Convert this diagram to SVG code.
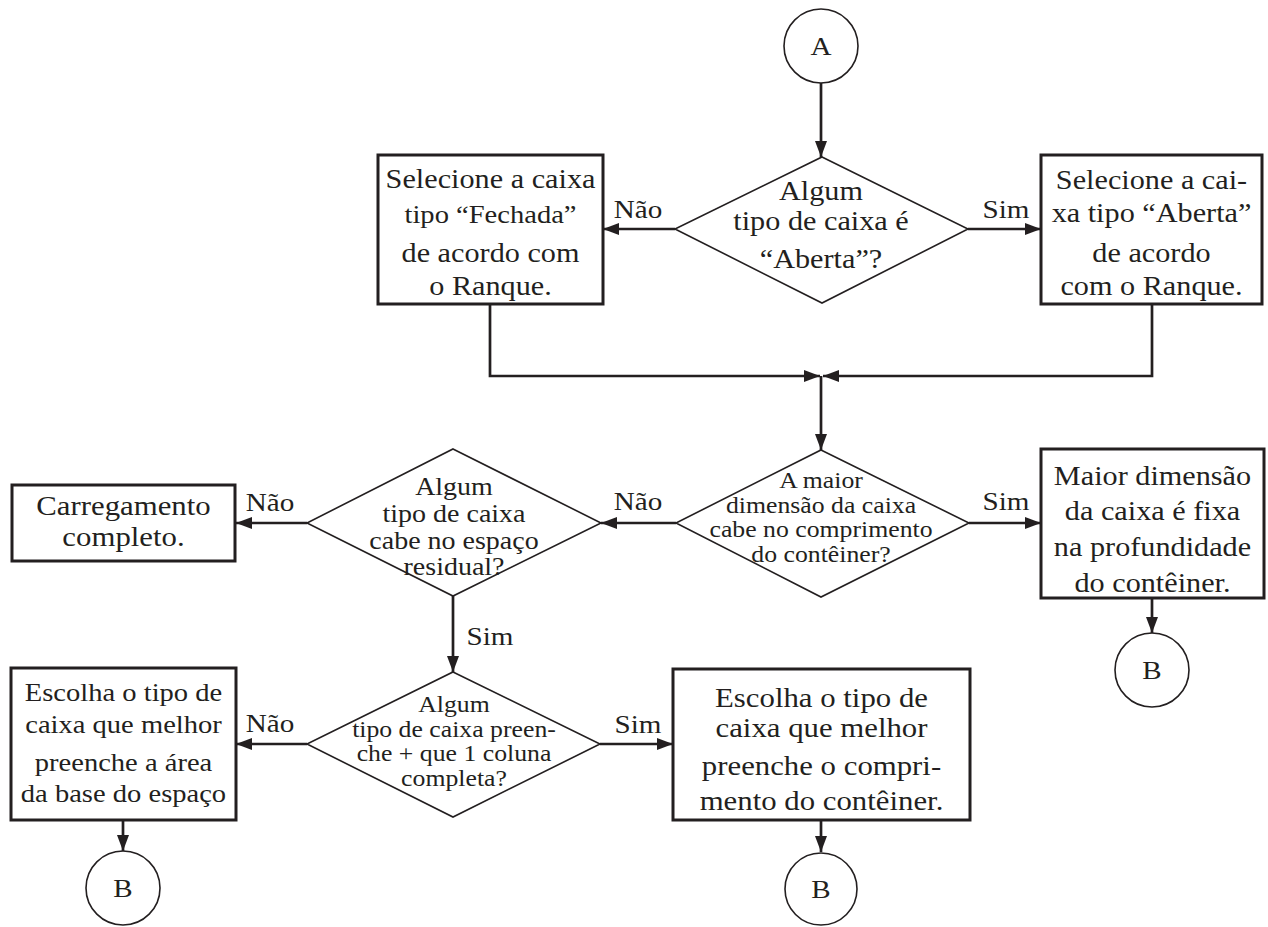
<svg xmlns="http://www.w3.org/2000/svg" width="1268" height="927" viewBox="0 0 1268 927">
<style>
  text { font-family: "Liberation Serif", "Times New Roman", serif; fill: #231f20; text-anchor: middle; }
  .box { fill: #ffffff; stroke: #231f20; stroke-width: 3; }
  .dia { fill: #ffffff; stroke: #231f20; stroke-width: 1.6; }
  .term { fill: #ffffff; stroke: #231f20; stroke-width: 1.6; }
  .conn { fill: none; stroke: #231f20; stroke-width: 2.7; }
  .arrow { marker-end: url(#arr); }
  .t27 { font-size: 27px; }
  .t275 { font-size: 27.5px; }
  .t25 { font-size: 25px; }
  .t255 { font-size: 25.5px; }
  .t23 { font-size: 23px; }
  .lbl { font-size: 26px; }
  .ltr { font-size: 26px; }
</style>
<defs>
  <marker id="arr" viewBox="0 0 16 12" refX="16" refY="6" markerWidth="16" markerHeight="12" markerUnits="userSpaceOnUse" orient="auto">
    <path d="M0,0 L16,6 L0,12 Z" fill="#231f20"/>
  </marker>
</defs>
<rect x="0" y="0" width="1268" height="927" fill="#ffffff"/>

<g id="connectors">
  <path class="conn arrow" d="M821,83 L821,157"/>
  <path class="conn arrow" d="M675,229 L603,229"/>
  <path class="conn arrow" d="M968,229 L1041,229"/>
  <path class="conn arrow" d="M490,304 L490,376 L820,376"/>
  <path class="conn arrow" d="M1152,304 L1152,376 L823,376"/>
  <path class="conn arrow" d="M821,376 L821,450"/>
  <path class="conn arrow" d="M676,523 L601,523"/>
  <path class="conn arrow" d="M969,523 L1041,523"/>
  <path class="conn arrow" d="M1152,598 L1152,633"/>
  <path class="conn arrow" d="M307,523 L236,523"/>
  <path class="conn arrow" d="M453,596 L453,672"/>
  <path class="conn arrow" d="M307,744 L236,744"/>
  <path class="conn arrow" d="M600,744 L673,744"/>
  <path class="conn arrow" d="M123,820 L123,851"/>
  <path class="conn arrow" d="M821,820 L821,852"/>
  <g transform="translate(638,0) scale(1.12,1)"><text class="lbl" x="0" y="218">Não</text><text class="lbl" x="0" y="510">Não</text><text class="lbl" x="0" y="733">Sim</text></g>
  <g transform="translate(1006,0) scale(1.12,1)"><text class="lbl" x="0" y="218">Sim</text><text class="lbl" x="0" y="510">Sim</text></g>
  <g transform="translate(270,0) scale(1.12,1)"><text class="lbl" x="0" y="511">Não</text><text class="lbl" x="0" y="732">Não</text></g>
  <g transform="translate(490,0) scale(1.12,1)"><text class="lbl" x="0" y="645">Sim</text></g>
</g>

<g id="startA">
  <ellipse class="term" cx="821" cy="46" rx="37" ry="37"/>
  <g transform="translate(821,0) scale(1.12,1)"><text class="ltr" x="0" y="55">A</text></g>
</g>

<g id="decision1">
  <polygon class="dia" points="822,157 968,229 822,303 675,229"/>
  <g transform="translate(821,0) scale(1.12,1)">
    <text class="t27" x="0" y="200">Algum</text>
    <text class="t27" x="0" y="230">tipo de caixa é</text>
    <text class="t27" x="0" y="268">“Aberta”?</text>
  </g>
</g>

<g id="boxFechada">
  <rect class="box" x="378" y="155" width="225" height="149"/>
  <g transform="translate(490.5,0) scale(1.12,1)">
    <text class="t27" x="0" y="188">Selecione a caixa</text>
    <text class="t255" x="0" y="223">tipo “Fechada”</text>
    <text class="t27" x="0" y="262">de acordo com</text>
    <text class="t27" x="0" y="295">o Ranque.</text>
  </g>
</g>

<g id="boxAberta">
  <rect class="box" x="1041" y="155" width="221" height="149"/>
  <g transform="translate(1151.5,0) scale(1.12,1)">
    <text class="t27" x="0" y="189">Selecione a cai-</text>
    <text class="t27" x="0" y="222">xa tipo “Aberta”</text>
    <text class="t27" x="0" y="262">de acordo</text>
    <text class="t27" x="0" y="295">com o Ranque.</text>
  </g>
</g>

<g id="decision2">
  <polygon class="dia" points="821,450 969,523 821,597 676,523"/>
  <g transform="translate(821,0) scale(1.12,1)">
    <text class="t23" x="0" y="488">A maior</text>
    <text class="t23" x="0" y="513">dimensão da caixa</text>
    <text class="t23" x="0" y="537">cabe no comprimento</text>
    <text class="t23" x="0" y="562">do contêiner?</text>
  </g>
</g>

<g id="boxProfundidade">
  <rect class="box" x="1041" y="449" width="223" height="149"/>
  <g transform="translate(1152.5,0) scale(1.12,1)">
    <text class="t27" x="0" y="485">Maior dimensão</text>
    <text class="t27" x="0" y="520">da caixa é fixa</text>
    <text class="t27" x="0" y="556">na profundidade</text>
    <text class="t27" x="0" y="592">do contêiner.</text>
  </g>
</g>

<g id="endB1">
  <ellipse class="term" cx="1152" cy="670" rx="37" ry="37"/>
  <g transform="translate(1152,0) scale(1.12,1)"><text class="ltr" x="0" y="679">B</text></g>
</g>

<g id="decision3">
  <polygon class="dia" points="453,449 601,523 453,596 307,523"/>
  <g transform="translate(454,0) scale(1.12,1)">
    <text class="t25" x="0" y="495">Algum</text>
    <text class="t25" x="0" y="522">tipo de caixa</text>
    <text class="t25" x="0" y="549">cabe no espaço</text>
    <text class="t25" x="0" y="575">residual?</text>
  </g>
</g>

<g id="boxCarregamento">
  <rect class="box" x="12" y="485" width="223" height="76"/>
  <g transform="translate(123.5,0) scale(1.12,1)">
    <text class="t275" x="0" y="515">Carregamento</text>
    <text class="t275" x="0" y="546">completo.</text>
  </g>
</g>

<g id="decision4">
  <polygon class="dia" points="453,672 600,744 453,817 307,744"/>
  <g transform="translate(454,0) scale(1.12,1)">
    <text class="t23" x="0" y="712">Algum</text>
    <text class="t23" x="0" y="737">tipo de caixa preen-</text>
    <text class="t23" x="0" y="761">che + que 1 coluna</text>
    <text class="t23" x="0" y="786">completa?</text>
  </g>
</g>

<g id="boxArea">
  <rect class="box" x="11" y="668" width="225" height="152"/>
  <g transform="translate(123.5,0) scale(1.12,1)">
    <text class="t255" x="0" y="701">Escolha o tipo de</text>
    <text class="t255" x="0" y="733">caixa que melhor</text>
    <text class="t255" x="0" y="771">preenche a área</text>
    <text class="t255" x="0" y="802">da base do espaço</text>
  </g>
</g>

<g id="endB2">
  <ellipse class="term" cx="123" cy="888" rx="37" ry="37"/>
  <g transform="translate(123,0) scale(1.12,1)"><text class="ltr" x="0" y="897">B</text></g>
</g>

<g id="boxComprimento">
  <rect class="box" x="673" y="669" width="297" height="151"/>
  <g transform="translate(821.5,0) scale(1.12,1)">
    <text class="t275" x="0" y="707">Escolha o tipo de</text>
    <text class="t275" x="0" y="737">caixa que melhor</text>
    <text class="t275" x="0" y="775">preenche o compri-</text>
    <text class="t275" x="0" y="810">mento do contêiner.</text>
  </g>
</g>

<g id="endB3">
  <ellipse class="term" cx="821" cy="889" rx="36" ry="36"/>
  <g transform="translate(821,0) scale(1.12,1)"><text class="ltr" x="0" y="898">B</text></g>
</g>
</svg>
